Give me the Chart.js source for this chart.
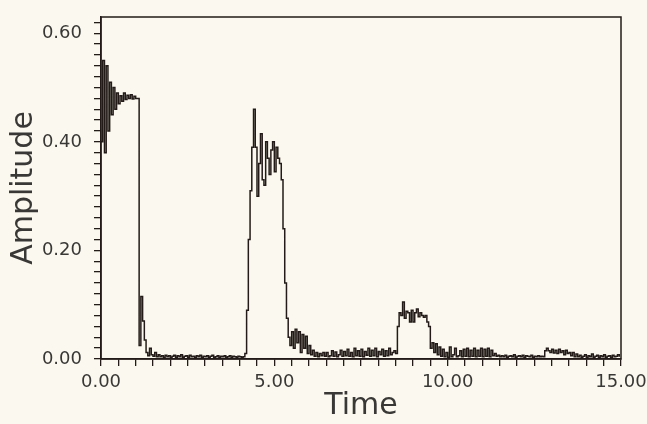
<!DOCTYPE html>
<html>
<head>
<meta charset="utf-8">
<script src="https://cdn.jsdelivr.net/npm/chart.js@4.4.0/dist/chart.umd.min.js"></script>
<style>
  html, body { margin: 0; padding: 0; background: #fbf9ef; }
  canvas { display: block; }
</style>
</head>
<body>
<canvas id="myChart" width="647" height="424"></canvas>
<script>
// sample spacing of the recorded trace (s)
const dt = 0.05;

// amplitude, one value every 0.05 s, 0 .. 15 s
const burst1 = [
  0.40, 0.55, 0.38, 0.54, 0.42, 0.51, 0.45, 0.50, 0.46, 0.49,
  0.47, 0.485, 0.475, 0.49, 0.478, 0.486, 0.48, 0.487, 0.479, 0.484,
  0.48, 0.48, 0.025, 0.115, 0.07, 0.035, 0.012, 0.006, 0.02, 0.008,
  0.005, 0.012, 0.004
];
const quiet1 = [
  0.008, 0.004, 0.006, 0.003, 0.007, 0.004, 0.006, 0.003, 0.005, 0.007,
  0.003, 0.006, 0.004, 0.008, 0.003, 0.005, 0.006, 0.003, 0.007, 0.004,
  0.005, 0.003, 0.006, 0.004, 0.007, 0.003, 0.005, 0.004, 0.006, 0.003,
  0.005, 0.007, 0.003, 0.004, 0.006, 0.003, 0.005, 0.004, 0.006, 0.003,
  0.004, 0.006, 0.003, 0.005, 0.004, 0.003, 0.005, 0.004, 0.003, 0.004
];
const burst2 = [
  0.01, 0.09, 0.22, 0.31, 0.39, 0.46, 0.39, 0.30, 0.36, 0.415,
  0.33, 0.32, 0.40, 0.37, 0.34, 0.385, 0.40, 0.345, 0.39, 0.37,
  0.36, 0.33, 0.24, 0.14, 0.075, 0.04, 0.025, 0.05, 0.02, 0.055,
  0.03, 0.05, 0.012, 0.045, 0.02, 0.042, 0.01, 0.025
];
const quiet2 = [
  0.008, 0.016, 0.005, 0.012, 0.004, 0.01, 0.006, 0.012, 0.005, 0.012,
  0.004, 0.006, 0.015, 0.005, 0.013, 0.004, 0.008, 0.016, 0.005, 0.014,
  0.006, 0.018, 0.005, 0.012, 0.004, 0.02, 0.006, 0.015, 0.005, 0.018,
  0.004, 0.014, 0.007, 0.02, 0.005, 0.016, 0.006, 0.02, 0.004, 0.014,
  0.008, 0.018, 0.005, 0.015, 0.006, 0.02, 0.008, 0.012, 0.015
];
const burst3 = [
  0.01, 0.06, 0.085, 0.08, 0.105, 0.075, 0.088, 0.085, 0.068, 0.09,
  0.068, 0.085, 0.092, 0.078, 0.085, 0.08, 0.077, 0.08, 0.068, 0.06,
  0.02, 0.03, 0.012, 0.028, 0.008, 0.022, 0.005, 0.018, 0.004, 0.012,
  0.003
];
const quiet3 = [
  0.022, 0.004, 0.008, 0.02, 0.004, 0.006, 0.015, 0.004, 0.018, 0.005,
  0.02, 0.004, 0.016, 0.005, 0.02, 0.004, 0.016, 0.005, 0.02, 0.004,
  0.018, 0.005, 0.02, 0.004, 0.016, 0.006, 0.01, 0.005, 0.007, 0.004,
  0.006, 0.004, 0.007, 0.003, 0.005, 0.006, 0.004, 0.008, 0.003, 0.005,
  0.006, 0.004, 0.007, 0.003, 0.006, 0.005, 0.004, 0.007, 0.003, 0.005,
  0.004, 0.006, 0.004, 0.005, 0.004
];
const bump4 = [
  0.015, 0.02, 0.015, 0.012, 0.018, 0.011, 0.016, 0.01, 0.018, 0.012,
  0.015, 0.008, 0.016, 0.01, 0.012, 0.006, 0.012, 0.004, 0.009
];
const tail = [
  0.004, 0.007, 0.003, 0.005, 0.008, 0.003, 0.006, 0.004, 0.009, 0.003,
  0.005, 0.007, 0.003, 0.006, 0.004, 0.008, 0.003, 0.005, 0.006, 0.003,
  0.007, 0.004, 0.005, 0.008, 0.004
];

const amplitude = [...burst1, ...quiet1, ...burst2, ...quiet2, ...burst3, ...quiet3, ...bump4, ...tail];
const times = amplitude.map((_, i) => +(i * dt).toFixed(2));

const xMajor = [0, 5, 10, 15];
const yMajor = [0, 0.2, 0.4, 0.6];

const ink = '#231b18';
const textInk = '#3a3836';

const isMajor = (v, list) => list.some((m) => Math.abs(v - m) < 1e-6);

// box round the plot area, like the original print
const framePlugin = {
  id: 'frame',
  afterDatasetsDraw(chart) {
    const { ctx, chartArea: a } = chart;
    ctx.save();
    ctx.strokeStyle = ink;
    ctx.lineWidth = 1.5;
    ctx.strokeRect(a.left, a.top, a.right - a.left, a.bottom - a.top);
    ctx.restore();
  },
};

const ctx = document.getElementById('myChart').getContext('2d');
const myChart = new Chart(ctx, {
  type: 'line',
  data: {
    datasets: [
      {
        data: times.map((t, i) => ({ x: t, y: amplitude[i] })),
        borderColor: ink,
        borderWidth: 1.5,
        pointRadius: 0,
        stepped: true,
        fill: false,
      },
    ],
  },
  options: {
    responsive: false,
    animation: false,
    layout: { padding: { top: 17, right: 26, left: 6, bottom: 0 } },
    plugins: { legend: { display: false }, tooltip: { enabled: false } },
    scales: {
      x: {
        type: 'linear',
        min: 0,
        max: 15,
        afterFit: (s) => { s.height = 65; s.paddingRight = 0; },
        border: { display: true, color: ink, width: 1.5 },
        grid: { drawOnChartArea: false, drawTicks: true, tickLength: 7, color: ink, lineWidth: 1.3 },
        title: {
          display: true,
          text: 'Time',
          color: textInk,
          font: { family: 'DejaVu Sans', size: 30 },
          padding: { top: 0, bottom: 0 },
        },
        ticks: {
          stepSize: 0.5,
          autoSkip: false,
          maxRotation: 0,
          includeBounds: false,
          color: textInk,
          padding: 6,
          font: { family: 'DejaVu Sans', size: 18 },
          callback: (v) => (isMajor(v, xMajor) ? v.toFixed(2) : ''),
        },
      },
      y: {
        min: 0,
        max: 0.63,
        afterFit: (s) => { s.width = 95; s.paddingTop = 0; s.paddingBottom = 0; },
        border: { display: true, color: ink, width: 1.5 },
        grid: { drawOnChartArea: false, drawTicks: true, tickLength: 7, color: ink, lineWidth: 1.3 },
        title: {
          display: true,
          text: 'Amplitude',
          color: textInk,
          font: { family: 'DejaVu Sans', size: 30 },
          padding: { top: 0, bottom: 2 },
        },
        ticks: {
          stepSize: 0.02,
          autoSkip: false,
          includeBounds: false,
          color: textInk,
          padding: 12,
          font: { family: 'DejaVu Sans', size: 18 },
          callback: (v) => (isMajor(v, yMajor) ? v.toFixed(2) : ''),
        },
      },
    },
  },
  plugins: [framePlugin],
});
</script>
</body>
</html>
